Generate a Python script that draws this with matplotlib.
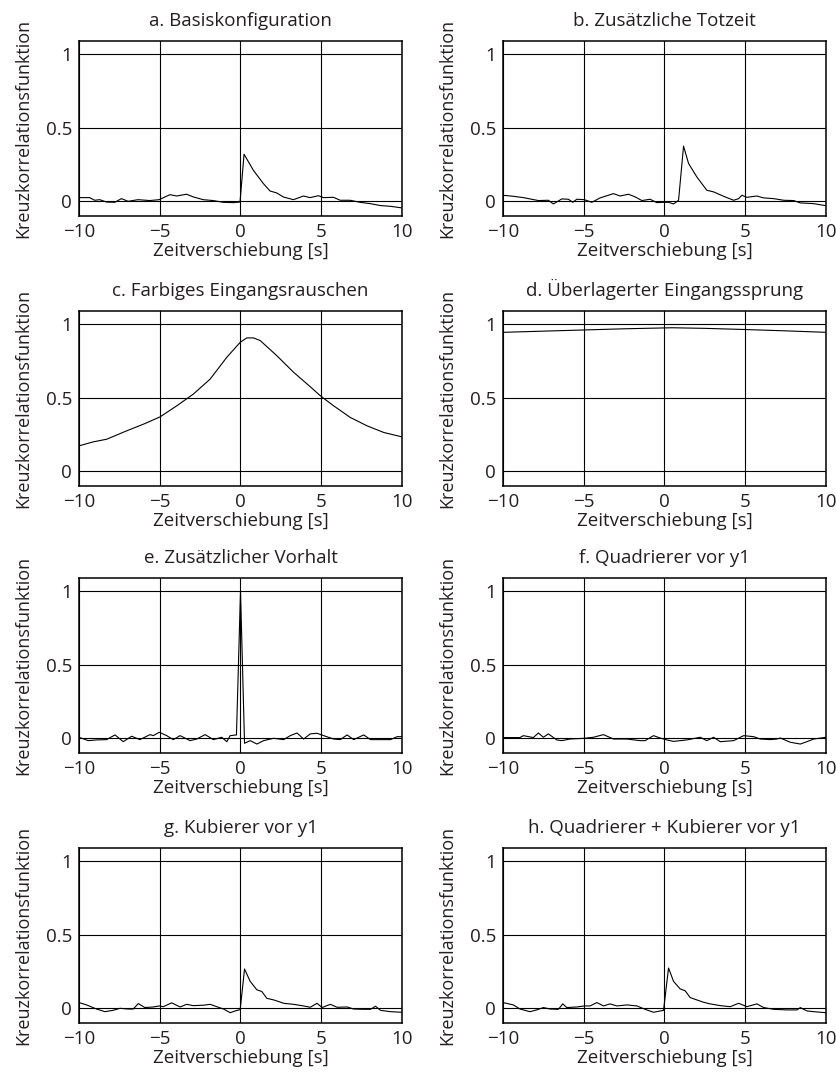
import matplotlib
matplotlib.use("Agg")
import matplotlib.pyplot as plt

plt.rcParams['font.family'] = ['Open Sans', 'DejaVu Sans']

titles = ["a. Basiskonfiguration", "b. Zusätzliche Totzeit",
          "c. Farbiges Eingangsrauschen", "d. Überlagerter Eingangssprung",
          "e. Zusätzlicher Vorhalt", "f. Quadrierer vor y1",
          "g. Kubierer vor y1", "h. Quadrierer + Kubierer vor y1"]
xlabel = "Zeitverschiebung [s]"
ylabel = "Kreuzkorrelationsfunktion"
xticks = [-10, -5, 0, 5, 10]
xticklabels = ["\u221210", "\u22125", "0", "5", "10"]
yticks = [0, 0.5, 1]
yticklabels = ["0", "0.5", "1"]

lag_a = [-10, -9.34, -9.03, -8.72, -8.30, -7.79, -7.37, -6.96, -6.34, -5.62, -5.04,
         -4.37, -3.96, -3.34, -2.93, -2.31, -1.69, -1.07, -0.44, -0.03, 0.22, 0.80,
         1.42, 1.83, 2.24, 2.66, 3.28, 3.90, 4.31, 4.83, 5.14, 5.76, 6.17, 6.79,
         7.41, 8.04, 8.66, 9.28, 10.0]
kkf_a = [0.025, 0.025, 0.007, 0.011, -0.005, -0.007, 0.018, 0.0, 0.011, 0.005, 0.011,
         0.045, 0.036, 0.048, 0.030, 0.011, 0.005, -0.007, -0.009, -0.005, 0.32, 0.21,
         0.12, 0.07, 0.057, 0.029, 0.011, 0.036, 0.025, 0.038, 0.025, 0.027, 0.007, 0.007,
         -0.007, -0.016, -0.029, -0.034, -0.045]

lag_b = [-10, -9.36, -8.74, -7.81, -7.19, -6.88, -6.36, -5.95, -5.68, -5.43, -4.96,
         -4.50, -3.99, -3.16, -2.75, -2.23, -1.82, -1.40, -0.89, -0.48, -0.06, 0.25,
         0.56, 0.87, 1.18, 1.49, 2.0, 2.62, 3.04, 3.66, 4.28, 4.59, 4.79, 5.10, 5.72,
         6.14, 6.76, 7.38, 8.0, 8.41, 9.24, 10.0]
kkf_b = [0.041, 0.034, 0.025, 0.005, 0.007, -0.018, 0.016, 0.014, -0.007, 0.014, 0.011,
         -0.007, 0.023, 0.052, 0.036, 0.048, 0.030, 0.005, 0.014, -0.009, -0.007, -0.007,
         -0.018, 0.007, 0.375, 0.257, 0.166, 0.075, 0.064, 0.034, 0.007, 0.018, 0.041,
         0.027, 0.036, 0.023, 0.018, 0.007, 0.005, -0.011, -0.016, -0.03]

lag_c = [-10, -9.12, -8.29, -7.05, -6.02, -4.98, -3.95, -2.92, -1.88, -0.85, -0.02,
         0.39, 0.81, 1.22, 2.25, 3.29, 4.32, 4.94, 5.77, 6.80, 7.84, 8.87, 10.0]
kkf_c = [0.173, 0.20, 0.218, 0.275, 0.32, 0.37, 0.445, 0.525, 0.627, 0.775, 0.877,
         0.907, 0.907, 0.889, 0.786, 0.673, 0.575, 0.514, 0.445, 0.366, 0.309, 0.264, 0.234]

lag_d = [-10, -7.5, -5, -2.5, 0, 0.5, 2.5, 5, 7.5, 10]
kkf_d = [0.945, 0.953, 0.961, 0.969, 0.975, 0.976, 0.972, 0.964, 0.955, 0.945]

lag_e = [-10, -9.43, -8.91, -8.29, -7.77, -7.26, -6.74, -6.23, -5.60, -5.40, -5.03,
         -4.57, -4.16, -3.74, -3.12, -2.71, -2.19, -1.68, -1.16, -0.85, -0.64, -0.25,
         0.0, 0.25, 0.60, 1.02, 1.43, 2.05, 2.67, 3.08, 3.50, 3.91, 4.32, 4.74, 5.15,
         5.77, 6.18, 6.60, 7.01, 7.63, 8.05, 8.67, 9.29, 9.70, 10.0]
kkf_e = [0.007, -0.016, -0.011, -0.009, 0.023, -0.023, 0.014, -0.009, 0.025, 0.018, 0.041,
         0.018, -0.009, 0.018, -0.016, -0.005, 0.025, -0.009, 0.007, -0.023, 0.018, 0.023,
         1.0, -0.034, -0.016, -0.039, -0.016, 0.0, -0.009, 0.018, 0.036, -0.005, 0.030,
         0.034, 0.018, -0.005, -0.009, 0.023, -0.009, 0.023, -0.009, -0.009, -0.009,
         0.011, 0.011]

lag_f = [-10, -8.95, -8.74, -8.12, -7.81, -7.50, -7.19, -6.67, -6.36, -5.85, -4.96,
         -4.40, -3.78, -3.16, -2.33, -1.51, -1.20, -0.68, -0.27, 0.14, 0.56, 1.38, 2.21,
         2.62, 3.04, 3.45, 4.28, 4.90, 5.52, 5.93, 6.55, 6.96, 7.17, 7.79, 8.41, 8.82,
         9.24, 10.0]
kkf_f = [0.005, 0.005, 0.018, 0.005, 0.036, 0.007, 0.030, -0.011, -0.016, -0.005, 0.0,
         0.007, 0.025, -0.005, -0.005, -0.016, -0.016, 0.018, 0.002, -0.011, -0.021,
         -0.011, 0.007, -0.016, 0.007, -0.023, -0.016, 0.018, 0.011, -0.005, -0.009,
         -0.005, 0.002, -0.027, -0.039, -0.023, -0.005, 0.007]

lag_g = [-10, -9.53, -8.91, -8.40, -7.89, -7.46, -6.95, -6.64, -6.33, -5.92, -5.40,
         -5.03, -4.78, -4.26, -3.74, -3.33, -2.92, -2.30, -1.88, -1.47, -1.05, -0.64,
         -0.33, -0.02, 0.25, 0.60, 1.01, 1.32, 1.63, 2.05, 2.36, 2.67, 3.29, 3.91, 4.32,
         4.74, 5.05, 5.56, 5.98, 6.60, 7.01, 7.63, 8.05, 8.36, 8.67, 9.29, 10.0]
kkf_g = [0.039, 0.023, -0.005, -0.023, -0.014, 0.0, -0.005, -0.005, 0.032, 0.005, 0.009,
         0.016, 0.011, 0.037, 0.009, 0.027, 0.018, 0.021, 0.027, 0.011, -0.005, -0.030,
         -0.018, -0.009, 0.267, 0.183, 0.126, 0.114, 0.068, 0.057, 0.046, 0.034, 0.027,
         0.016, 0.007, 0.034, 0.005, 0.027, 0.007, 0.009, -0.005, -0.007, -0.007, 0.014,
         -0.014, -0.023, -0.027]

lag_h = [-10, -9.36, -8.95, -8.33, -7.91, -7.50, -7.09, -6.57, -6.30, -6.05, -5.43,
         -4.96, -4.61, -4.19, -3.78, -3.37, -2.95, -2.33, -1.71, -1.10, -0.68, -0.06,
         0.25, 0.56, 0.97, 1.28, 1.59, 2.00, 2.42, 2.83, 3.45, 4.07, 4.59, 5.10, 5.72,
         6.14, 6.76, 7.58, 8.20, 8.41, 8.82, 9.24, 10.0]
kkf_h = [0.039, 0.023, -0.005, -0.023, -0.011, 0.005, -0.005, -0.007, 0.030, 0.005, 0.009,
         0.016, 0.016, 0.039, 0.016, 0.030, 0.016, 0.023, 0.016, -0.011, -0.027, -0.014,
         0.274, 0.183, 0.132, 0.119, 0.073, 0.057, 0.041, 0.030, 0.018, 0.011, 0.034,
         0.011, 0.030, 0.005, -0.007, -0.011, -0.011, 0.005, -0.018, -0.023, -0.030]

lags = [lag_a, lag_b, lag_c, lag_d, lag_e, lag_f, lag_g, lag_h]
kkfs = [kkf_a, kkf_b, kkf_c, kkf_d, kkf_e, kkf_f, kkf_g, kkf_h]

fig = plt.figure(figsize=(8.37, 10.79), dpi=100)
W, H = 837.0, 1079.0
col_left = [79, 503]
row_top = [41, 311, 578, 848]
aw, ah = 323, 175
fs = 13.5

for i in range(8):
    r, c = divmod(i, 2)
    ax = fig.add_axes([col_left[c] / W, 1 - (row_top[r] + ah) / H, aw / W, ah / H])
    ax.plot(lags[i], kkfs[i], color='black', lw=0.8)
    ax.set_xlim(-10, 10)
    ax.set_ylim(-0.1, 1.09)
    ax.set_xticks(xticks)
    ax.set_xticklabels(xticklabels)
    ax.set_yticks(yticks)
    ax.set_yticklabels(yticklabels)
    ax.grid(True, color='black', lw=0.8)
    ax.tick_params(length=0, labelsize=fs, pad=5, colors='#231f20')
    for s in ax.spines.values():
        s.set_linewidth(1.1)
        s.set_color('black')
    ax.set_title(titles[i], fontsize=fs, pad=11, color='#231f20')
    ax.set_xlabel(xlabel, fontsize=fs, labelpad=1, color='#231f20')
    ax.set_ylabel(ylabel, fontsize=13, labelpad=10, color='#231f20')

fig.savefig("out.png", dpi=100)
